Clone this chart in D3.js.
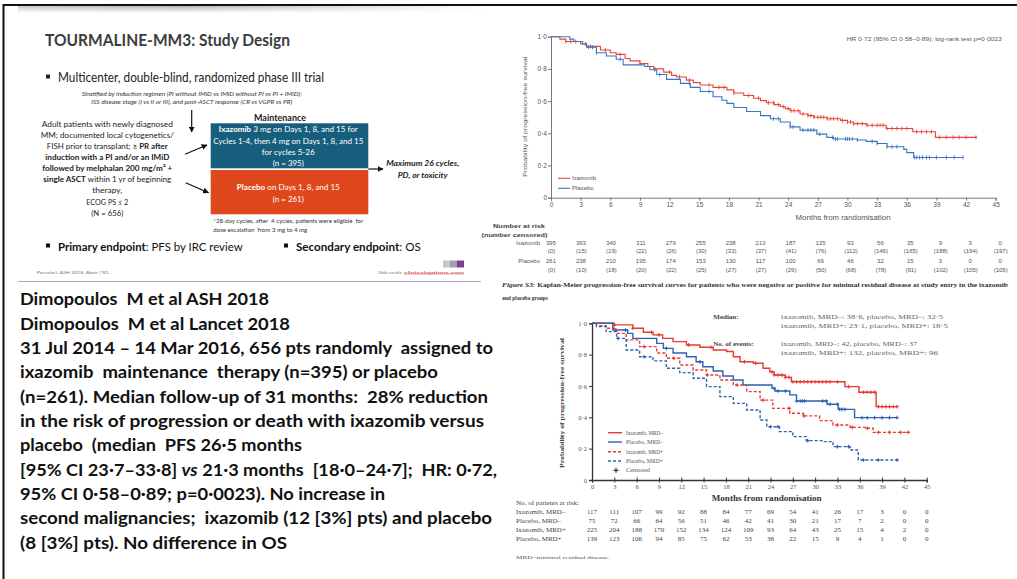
<!DOCTYPE html>
<html>
<head>
<meta charset="utf-8">
<script src="https://cdn.jsdelivr.net/npm/d3@7"></script>
<style>
  body { margin: 0; background: #fff; }
  svg { display: block; }
  text { white-space: pre; }
</style>
</head>
<body>
<svg id="c" width="1017" height="579"></svg>
<script>
// ---------- data ----------
const monthTicks = [0, 3, 6, 9, 12, 15, 18, 21, 24, 27, 30, 33, 36, 39, 42, 45];
const survTicks = [0, 0.2, 0.4, 0.6, 0.8, 1.0];

// Overall PFS, step points [month, survival]
const ixazomibPFS = [[0,1],[0.9,0.985],[1.5,0.97],[3.2,0.955],[3.6,0.94],[5,0.917],[6,0.9],[6.6,0.89],[7.5,0.865],[8,0.85],[9,0.834],[9.8,0.815],[10.4,0.8],[11.4,0.78],[12.2,0.76],[12.7,0.75],[13.7,0.73],[14.4,0.715],[15.1,0.7],[16.4,0.685],[17.8,0.67],[18.5,0.65],[19.5,0.635],[20.5,0.618],[21.2,0.603],[21.8,0.59],[22.6,0.578],[23.2,0.566],[23.7,0.553],[24.2,0.54],[25.2,0.52],[26,0.51],[26.6,0.5],[27.9,0.49],[29.3,0.48],[30,0.47],[30.6,0.46],[31.9,0.45],[33.9,0.43],[36.6,0.41],[38.9,0.375]];
const ixazomibEnd = 43.1;
const placeboPFS = [[0,1],[1.9,0.985],[2.3,0.97],[3,0.955],[3.6,0.935],[4.6,0.9],[5.6,0.88],[6.6,0.86],[7.3,0.825],[9.5,0.815],[10,0.795],[10.7,0.765],[11.7,0.735],[13.1,0.71],[14.1,0.685],[15.1,0.66],[16.4,0.627],[17.3,0.605],[17.8,0.586],[18.5,0.56],[19.8,0.535],[21.2,0.51],[22.2,0.49],[23.2,0.47],[24.2,0.44],[25.2,0.42],[26.9,0.395],[27.9,0.375],[28.6,0.365],[31,0.358],[31.9,0.35],[33,0.337],[34,0.316],[35.7,0.3],[36,0.28],[36.7,0.25]];
const placeboEnd = 41.7;
const ixazomibCensor = [1.5,2,2.5,4,5.5,7,9,10.5,12,13,14,16,17,17.5,18.5,20,21,22,22.5,23,23.5,24,24.3,24.6,25,25.5,26,26.3,26.6,27,27.3,27.6,28,28.3,28.6,29,29.5,30,30.3,30.6,31,31.5,32,32.5,33,33.3,33.6,34,34.5,35,35.5,36,37,37.5,38,38.5,39.3,40,40.7,41.3,42,43];
const placeboCensor = [3.5,3.8,4.2,4.6,7,10.5,11,14,16,22.5,23,24.2,24.5,25.5,26,26.3,26.6,27.2,28.5,28.8,29,29.8,30,30.2,30.5,31,32.5,33,34,34.5,35,36.8,37,37.3,37.6,38,38.3,39,40,40.8,41.7];

// Number at risk (number censored)
const riskIxazomib = [395,363,340,311,279,255,238,213,187,135,93,56,35,9,3,0];
const censIxazomib = [0,15,19,22,26,30,33,37,41,76,112,146,165,188,194,197];
const riskPlacebo = [261,238,210,195,174,153,130,117,100,69,46,32,15,3,0,0];
const censPlacebo = [0,10,18,20,22,25,27,27,29,50,68,78,91,102,105,105];

// PFS by MRD status at study entry
const ixaMrdNeg = [[0,1],[3,0.99],[5.5,0.968],[6.9,0.943],[8.2,0.926],[9.5,0.904],[10.9,0.883],[12.7,0.862],[14.5,0.847],[16.3,0.83],[18.1,0.82],[19,0.787],[19.9,0.755],[21.7,0.745],[23,0.713],[23.9,0.69],[24.5,0.67],[26,0.655],[26.8,0.627],[34,0.596],[35.9,0.56],[38.2,0.468]];
const ixaMrdNegEnd = 41;
const plaMrdNeg = [[0,1],[2.8,0.957],[4.8,0.936],[5.5,0.904],[8.7,0.872],[9.6,0.84],[10.9,0.81],[12.7,0.787],[14,0.755],[14.9,0.723],[16.3,0.696],[17.6,0.664],[19,0.638],[20.3,0.606],[24.2,0.585],[24.6,0.568],[26.6,0.543],[27.5,0.504],[31.6,0.483],[33.1,0.451],[35.3,0.398]];
const plaMrdNegEnd = 41;
const ixaMrdPos = [[0,1],[1,0.984],[1.9,0.968],[3.3,0.936],[4.6,0.894],[6.4,0.851],[8.7,0.81],[10,0.777],[11.8,0.734],[13.6,0.702],[15.4,0.67],[17.2,0.638],[19,0.606],[20.8,0.564],[22.6,0.51],[24.3,0.457],[26.6,0.426],[28.4,0.409],[30.6,0.379],[32.4,0.351],[34.7,0.336],[36.9,0.33],[37.8,0.304]];
const ixaMrdPosEnd = 42.7;
const plaMrdPos = [[0,1],[0.6,0.98],[1.9,0.947],[3.3,0.904],[4.6,0.83],[6.4,0.787],[8.2,0.76],[10,0.713],[11.8,0.685],[13.6,0.649],[15.4,0.596],[17.2,0.532],[19,0.489],[20.8,0.447],[22.6,0.383],[23.5,0.34],[25.2,0.309],[27,0.277],[28.8,0.251],[31.1,0.245],[32.4,0.213],[34.7,0.191],[35.8,0.128]];
const plaMrdPosEnd = 41.4;
const ixaMrdNegCensor = [3,5.5,8,9,13,16,20.5,22,24.2,24.5,25,25.5,26,26.5,27,27.5,28,28.5,29,29.5,30,30.5,31,31.5,32,33,34.5,36.5,37,37.5,38,38.5,39,39.5,40,40.5,41];
const plaMrdNegCensor = [3.2,4.5,10,14.5,24.5,25,26,27.5,28,28.3,28.6,31,31.5,32,33,33.3,33.6,34,36.3,37,38,39,40,41];
const ixaMrdPosCensor = [7,11,15.5,19.5,23,26.5,28.5,33,35,37,38.5,40,41.5,42.5];
const plaMrdPosCensor = [3.5,7,24,25,29,33,34.5,36.5,38.5,41];

const mrdRows = ["Ixazomib, MRD\u2013", "Placebo, MRD\u2013", "Ixazomib, MRD+", "Placebo, MRD+"];
const mrdRisk = [
  [117,111,107,99,92,88,84,77,69,54,41,26,17,3,0,0],
  [75,72,66,64,56,51,46,42,41,30,21,17,7,2,0,0],
  [225,204,188,170,152,134,124,109,93,64,43,25,15,4,2,0],
  [139,123,106,94,85,75,62,53,38,22,15,9,4,1,0,0]
];

// Body text
const bodyLines = [
  [["Dimopoulos  M et al ASH 2018"]],
  [["Dimopoulos  M et al Lancet 2018"]],
  [["31 Jul 2014 \u2013 14 Mar 2016, 656 pts randomly  assigned to"]],
  [["ixazomib  maintenance  therapy (n=395) or placebo"]],
  [["(n=261). Median follow-up of 31 months:  28% reduction"]],
  [["in the risk of progression or death with ixazomib versus"]],
  [["placebo  (median  PFS 26\u00b75 months"]],
  [["[95% CI 23\u00b77\u201333\u00b78] "], ["vs", {"font-style": "italic"}], [" 21\u00b73 months  [18\u00b70\u201324\u00b77];  HR: 0\u00b772,"]],
  [["95% CI 0\u00b758\u20130\u00b789; p=0\u00b70023). No increase in"]],
  [["second malignancies;  ixazomib (12 [3%] pts) and placebo"]],
  [["(8 [3%] pts). No difference in OS"]]
];
const bodyWidths = [249, 270, 473, 418, 468, 464, 282, 477, 365, 472, 267];

// ---------- helpers ----------
const SANS = "Lato, 'Open Sans', sans-serif";
const NARROW = "'Liberation Sans', Arial, sans-serif";
const SERIF = "'Liberation Serif', 'Times New Roman', serif";
const svg = d3.select("#c");
const fmt = d => d === 0 ? "0" : d3.format(".1f")(d).replace(".", "\u00b7");

// o.width stretches glyphs to a run length; o.fit scales the font size instead
function label(parent, x, y, content, o = {}) {
  const t = parent.append("text").attr("x", x).attr("y", y)
    .attr("font-family", o.family || SANS).attr("font-size", o.size || 10)
    .attr("font-weight", o.weight || "normal").attr("font-style", o.style || "normal")
    .attr("fill", o.fill || "#000").attr("text-anchor", o.anchor || "start")
    .attr("dominant-baseline", "central");
  if (o.rotate) t.attr("transform", `rotate(${o.rotate},${x},${y})`);
  const parts = Array.isArray(content) ? content : [[content]];
  parts.forEach(p => {
    const s = t.append("tspan").text(p[0]);
    if (p[1]) Object.entries(p[1]).forEach(([k, v]) => s.attr(k, v));
  });
  if (o.width) t.attr("textLength", o.width).attr("lengthAdjust", "spacingAndGlyphs");
  if (o.fit) {
    const natural = t.node().getComputedTextLength();
    if (natural > 0) t.attr("font-size", (o.size || 10) * o.fit / natural);
  }
  return t;
}
function survAt(data, t) { let s = 1; for (const [m, v] of data) if (m <= t) s = v; return s; }
function stepLine(x, y) {
  return d3.line().x(d => x(d[0])).y(d => y(d[1])).curve(d3.curveStepAfter);
}

// ---------- frame ----------
const defs = svg.append("defs");
const grad = defs.append("linearGradient").attr("id", "band");
grad.append("stop").attr("offset", "0%").attr("stop-color", "#c8c8c8");
grad.append("stop").attr("offset", "35%").attr("stop-color", "#b4b4b4");
grad.append("stop").attr("offset", "100%").attr("stop-color", "#ffffff");
const bandV = defs.append("linearGradient").attr("id", "bandMask").attr("x1", 0).attr("x2", 0).attr("y1", 0).attr("y2", 1);
bandV.append("stop").attr("offset", "0%").attr("stop-color", "#fff").attr("stop-opacity", 0);
bandV.append("stop").attr("offset", "100%").attr("stop-color", "#fff").attr("stop-opacity", 1);
svg.append("rect").attr("x", 18).attr("y", 6).attr("width", 470).attr("height", 7).attr("fill", "url(#band)");
svg.append("rect").attr("x", 18).attr("y", 6).attr("width", 470).attr("height", 7).attr("fill", "url(#bandMask)");
svg.append("line").attr("x1", 3).attr("x2", 1017).attr("y1", 5).attr("y2", 5).attr("stroke", "#111").attr("stroke-width", 2);
svg.append("line").attr("x1", 3.5).attr("x2", 3.5).attr("y1", 4).attr("y2", 579).attr("stroke", "#111").attr("stroke-width", 2);

// ---------- study design panel ----------
const sd = svg.append("g");
label(sd, 45, 38.5, "TOURMALINE-MM3: Study Design", {size: 17.5, weight: "bold", fill: "#3c3c3c", width: 245});
sd.append("rect").attr("x", 46).attr("y", 74.5).attr("width", 4).attr("height", 4).attr("fill", "#222");
label(sd, 58, 77, "Multicenter, double-blind, randomized phase III trial", {size: 12.5, fill: "#222", width: 266});
label(sd, 191.7, 94, "Stratified by induction regimen (PI without IMiD vs IMiD without PI vs PI + IMiD);", {size: 5.3, style: "italic", anchor: "middle", fill: "#333", width: 220});
label(sd, 191.7, 102.3, "ISS disease stage (I vs II or III), and post-ASCT response (CR vs VGPR vs PR)", {size: 5.3, style: "italic", anchor: "middle", fill: "#333", width: 201});

// arrows
defs.append("marker").attr("id", "ah").attr("viewBox", "0 0 10 10").attr("refX", 9).attr("refY", 5)
  .attr("markerWidth", 5).attr("markerHeight", 5).attr("orient", "auto")
  .append("path").attr("d", "M0,0L10,5L0,10z").attr("fill", "#111");
const arrows = [[191.7, 110, 191.7, 132], [185, 154.3, 207, 145], [185.7, 182.7, 208.5, 192.7], [368.3, 169, 383, 169]];
sd.selectAll("line.arr").data(arrows).join("line").attr("class", "arr")
  .attr("x1", d => d[0]).attr("y1", d => d[1]).attr("x2", d => d[2]).attr("y2", d => d[3])
  .attr("stroke", "#111").attr("stroke-width", 1.2).attr("marker-end", "url(#ah)");

const leftLines = [
  [[["Adult patients with newly diagnosed"]], 131],
  [[["MM; documented local cytogenetics/"]], 133],
  [[["FISH prior to transplant; "], ["\u2265 PR after", {"font-weight": "bold"}]], 121],
  [[["induction with a PI and/or an IMiD", {"font-weight": "bold"}]], 124],
  [[["followed by melphalan 200 mg/m\u00b2 +", {"font-weight": "bold"}]], 130],
  [[["single ASCT", {"font-weight": "bold"}], [" within 1 yr of beginning"]], 128],
  [[["therapy,"]], 30],
  [[["ECOG PS \u2264 2"]], 42],
  [[["(N = 656)"]], 32]
];
leftLines.forEach((l, i) => label(sd, 107.3, 124 + i * 11.08, l[0], {size: 8, anchor: "middle", fill: "#222", width: l[1]}));

label(sd, 280, 117.7, "Maintenance", {size: 8.5, weight: "bold", anchor: "middle", fill: "#222", width: 52});
sd.append("rect").attr("x", 210.7).attr("y", 123.3).attr("width", 157.6).attr("height", 45).attr("fill", "#175e7c");
sd.append("rect").attr("x", 210.7).attr("y", 170).attr("width", 157.6).attr("height", 44.3).attr("fill", "#df481d");
const teal = [
  [[["Ixazomib", {"font-weight": "bold"}], [" 3 mg on Days 1, 8, and 15 for"]], 139],
  [[["Cycles 1-4, then 4 mg on Days 1, 8, and 15"]], 150],
  [[["for cycles 5-26"]], 53],
  [[["(n = 395)"]], 31]
];
const tealY = [129.3, 141, 152, 162.7];
teal.forEach((l, i) => label(sd, 288.3, tealY[i], l[0], {size: 8, anchor: "middle", fill: "#fff", width: l[1]}));
label(sd, 288.3, 187, [["Placebo", {"font-weight": "bold"}], [" on Days 1, 8, and 15"]], {size: 8, anchor: "middle", fill: "#fff", width: 103});
label(sd, 288.3, 198.7, "(n = 261)", {size: 8, anchor: "middle", fill: "#fff", width: 31});
label(sd, 422.7, 163.3, "Maximum 26 cycles,", {size: 8, weight: "bold", style: "italic", anchor: "middle", fill: "#222", width: 73});
label(sd, 422.7, 175, "PD, or toxicity", {size: 8, weight: "bold", style: "italic", anchor: "middle", fill: "#222", width: 50});
label(sd, 213.3, 221, "*28-day cycles, after  4 cycles, patients were eligible  for", {size: 5, fill: "#333", width: 150});
label(sd, 213.3, 229.8, "dose escalation  from 3 mg to 4 mg", {size: 5, fill: "#333", width: 94});

// endpoints
sd.append("rect").attr("x", 46).attr("y", 243.5).attr("width", 4).attr("height", 4).attr("fill", "#111");
label(sd, 58, 245.7, [["Primary endpoint", {"font-weight": "bold"}], [": PFS by IRC review"]], {size: 12.5, fill: "#111", fit: 185});
sd.append("rect").attr("x", 284).attr("y", 243.5).attr("width", 4).attr("height", 4).attr("fill", "#111");
label(sd, 296, 245.7, [["Secondary endpoint", {"font-weight": "bold"}], [": OS"]], {size: 12.5, fill: "#111", fit: 125});

label(sd, 36.7, 271.7, "Poeschel. ASH 2018. Abstr 781.", {size: 4.5, fill: "#777", width: 73});
label(sd, 378.3, 271.7, "Slide credit:", {size: 4.5, fill: "#777", width: 24});
label(sd, 404, 271.7, "clinicaloptions.com", {size: 4.5, fill: "#d04040", width: 60});
sd.append("line").attr("x1", 404).attr("x2", 464).attr("y1", 274).attr("y2", 274).attr("stroke", "#d04040").attr("stroke-width", 0.5);
sd.append("rect").attr("x", 443).attr("y", 260.5).attr("width", 7).attr("height", 7).attr("fill", "#c8c8cc");
sd.append("rect").attr("x", 450).attr("y", 260.5).attr("width", 7).attr("height", 7).attr("fill", "#9aa0b0");
sd.append("rect").attr("x", 457).attr("y", 260.5).attr("width", 7).attr("height", 7).attr("fill", "#7d3c98");
sd.append("line").attr("x1", 18).attr("x2", 481).attr("y1", 281.5).attr("y2", 281.5).attr("stroke", "#b3aac8").attr("stroke-width", 1);

// ---------- body text ----------
const body = svg.append("g");
bodyLines.forEach((l, i) => label(body, 20, 298.3 + i * 24.35, l, {size: 17, weight: "bold", fill: "#111", width: bodyWidths[i]}));

// ---------- overall PFS chart ----------
const g1 = svg.append("g");
const x1 = d3.scaleLinear().domain([0, 45]).range([551, 995.7]);
const y1 = d3.scaleLinear().domain([0, 1]).range([197.7, 36.7]);
const ax1 = g1.append("g").attr("transform", "translate(0,197.7)")
  .call(d3.axisBottom(x1).tickValues(monthTicks).tickSize(3).tickPadding(1.5).tickFormat(d3.format("d")));
const ay1 = g1.append("g").attr("transform", "translate(551,0)")
  .call(d3.axisLeft(y1).tickValues(survTicks).tickSize(3).tickPadding(1).tickFormat(fmt));
[ax1, ay1].forEach(a => {
  a.select(".domain").attr("stroke", "#777");
  a.selectAll(".tick line").attr("stroke", "#777");
  a.selectAll("text").attr("font-family", NARROW).attr("font-size", 6.5).attr("fill", "#555");
});
label(g1, 843, 216.7, "Months from randomisation", {family: NARROW, size: 6.5, anchor: "middle", fill: "#555", width: 95});
label(g1, 525, 116.7, "Probability of progression-free survival", {family: NARROW, size: 6, anchor: "middle", fill: "#555", width: 120, rotate: -90});
label(g1, 1001.7, 39.3, "HR 0\u00b772 (95% CI 0\u00b758\u20130\u00b789); log-rank test p=0\u00b70023", {family: NARROW, size: 5.5, anchor: "end", fill: "#555", width: 155});

const km1 = [
  {data: ixazomibPFS, end: ixazomibEnd, censor: ixazomibCensor, color: "#e8453a"},
  {data: placeboPFS, end: placeboEnd, censor: placeboCensor, color: "#3b76c0"}
];
const line1 = stepLine(x1, y1);
km1.forEach(s => {
  const pts = s.data.concat([[s.end, s.data[s.data.length - 1][1]]]);
  g1.append("path").attr("d", line1(pts)).attr("fill", "none").attr("stroke", s.color).attr("stroke-width", 1.1);
  g1.selectAll(null).data(s.censor).join("line")
    .attr("x1", d => x1(d)).attr("x2", d => x1(d))
    .attr("y1", d => y1(survAt(s.data, d)) - 2).attr("y2", d => y1(survAt(s.data, d)) + 2)
    .attr("stroke", s.color).attr("stroke-width", 0.9);
});
[["Ixazomib", "#e8453a", 178.3], ["Placebo", "#3b76c0", 188.3]].forEach(d => {
  g1.append("line").attr("x1", 558).attr("x2", 570).attr("y1", d[2]).attr("y2", d[2]).attr("stroke", d[1]).attr("stroke-width", 1.1);
  label(g1, 572, d[2], d[0], {family: NARROW, size: 6, fill: "#555"});
});

// number at risk table
label(g1, 519, 226, "Number at risk", {family: NARROW, size: 6, weight: "bold", anchor: "middle", fill: "#444", width: 52});
label(g1, 514.5, 234.5, "(number censored)", {family: NARROW, size: 6, weight: "bold", anchor: "middle", fill: "#444", width: 66});
const riskRows = [
  {name: "Ixazomib", vals: riskIxazomib, y: 242.7},
  {name: null, vals: censIxazomib, y: 251.3, paren: true},
  {name: "Placebo", vals: riskPlacebo, y: 261.3},
  {name: null, vals: censPlacebo, y: 270.3, paren: true}
];
riskRows.forEach(r => {
  if (r.name) label(g1, 540, r.y, r.name, {family: NARROW, size: 6, anchor: "end", fill: "#555"});
  r.vals.forEach((v, i) => label(g1, x1(monthTicks[i]) + (r.paren ? 0.5 : 0) + i * 0.3, r.y, r.paren ? `(${v})` : String(v), {family: NARROW, size: 6, anchor: "middle", fill: "#555"}));
});
label(g1, 502, 285, [["Figure S3:", {"font-style": "italic"}], [" Kaplan-Meier progression-free survival curves for patients who were negative or positive for minimal residual disease at study entry in the ixazomib"]], {family: SERIF, size: 5.5, weight: "bold", fill: "#333", width: 506});
label(g1, 502, 297.5, "and placebo groups", {family: SERIF, size: 5.5, weight: "bold", fill: "#333", width: 46});

// ---------- PFS by MRD status chart ----------
const g2 = svg.append("g");
const x2 = d3.scaleLinear().domain([0, 45]).range([592, 926.7]);
const y2 = d3.scaleLinear().domain([0, 1]).range([480, 323.3]);
const ax2 = g2.append("g").attr("transform", "translate(0,480)")
  .call(d3.axisBottom(x2).tickValues(monthTicks).tickSize(2.5).tickPadding(1.5).tickFormat(d3.format("d")));
const ay2 = g2.append("g").attr("transform", "translate(592,0)")
  .call(d3.axisLeft(y2).tickValues(survTicks).tickSize(3).tickPadding(2).tickFormat(fmt));
[ax2, ay2].forEach(a => {
  a.select(".domain").attr("stroke", "#333").attr("stroke-width", 1.3);
  a.selectAll(".tick line").attr("stroke", "#333").attr("stroke-width", 1);
  a.selectAll("text").attr("font-family", SERIF).attr("font-size", 6.5).attr("fill", "#555");
});
ax2.selectAll(".tick line").attr("y1", -2.5);
label(g2, 766.7, 498.3, "Months from randomisation", {family: SERIF, size: 8, weight: "bold", anchor: "middle", fill: "#333", width: 110});
label(g2, 561.7, 403, "Probability of progression-free survival", {family: SERIF, size: 7, weight: "bold", anchor: "middle", fill: "#444", width: 130, rotate: -90});

label(g2, 713.3, 316.7, "Median:", {family: SERIF, size: 7, weight: "bold", fill: "#444"});
label(g2, 781, 316.7, "ixazomib, MRD\u2013: 38\u00b76, placebo, MRD\u2013: 32\u00b75", {family: SERIF, size: 7, fill: "#666", width: 162});
label(g2, 781, 325.7, "ixazomib, MRD+: 23\u00b71, placebo, MRD+: 18\u00b75", {family: SERIF, size: 7, fill: "#666", width: 167});
label(g2, 713.3, 344.3, "No. of events:", {family: SERIF, size: 7, weight: "bold", fill: "#444"});
label(g2, 781, 344.3, "ixazomib, MRD\u2013: 42, placebo, MRD\u2013: 37", {family: SERIF, size: 7, fill: "#666", width: 136});
label(g2, 781, 353.3, "ixazomib, MRD+: 132, placebo, MRD+: 96", {family: SERIF, size: 7, fill: "#666", width: 157});

const RED2 = "#e63b33", BLUE2 = "#2c61b5";
const km2 = [
  {data: ixaMrdNeg, end: ixaMrdNegEnd, censor: ixaMrdNegCensor, color: RED2, dash: null},
  {data: plaMrdNeg, end: plaMrdNegEnd, censor: plaMrdNegCensor, color: BLUE2, dash: null},
  {data: ixaMrdPos, end: ixaMrdPosEnd, censor: ixaMrdPosCensor, color: RED2, dash: "3,2"},
  {data: plaMrdPos, end: plaMrdPosEnd, censor: plaMrdPosCensor, color: BLUE2, dash: "3,2"}
];
const line2 = stepLine(x2, y2);
km2.forEach(s => {
  const pts = s.data.concat([[s.end, s.data[s.data.length - 1][1]]]);
  g2.append("path").attr("d", line2(pts)).attr("fill", "none").attr("stroke", s.color)
    .attr("stroke-width", 1.4).attr("stroke-dasharray", s.dash);
  g2.selectAll(null).data(s.censor).join("path")
    .attr("d", d => { const cx = x2(d), cy = y2(survAt(s.data, d)); return `M${cx - 1.8},${cy}H${cx + 1.8}M${cx},${cy - 1.8}V${cy + 1.8}`; })
    .attr("stroke", s.color).attr("stroke-width", 1.1);
});
const legend2 = [
  {text: "Ixazomib, MRD\u2013", color: RED2, dash: null, y: 432.7},
  {text: "Placebo, MRD\u2013", color: BLUE2, dash: null, y: 442},
  {text: "Ixazomib, MRD+", color: RED2, dash: "3,2", y: 451.7},
  {text: "Placebo, MRD+", color: BLUE2, dash: "3,2", y: 461}
];
legend2.forEach(d => {
  g2.append("line").attr("x1", 608).attr("x2", 622).attr("y1", d.y).attr("y2", d.y)
    .attr("stroke", d.color).attr("stroke-width", 1.4).attr("stroke-dasharray", d.dash);
  label(g2, 626, d.y, d.text, {family: SERIF, size: 7, fill: "#555", width: 37});
});
g2.append("path").attr("d", "M613.5,470.3H618.5M616,467.8V472.8").attr("stroke", "#333").attr("stroke-width", 1.2);
label(g2, 626, 470.3, "Censored", {family: SERIF, size: 7, fill: "#555", width: 24});

label(g2, 516, 503.3, "No. of patients at risk:", {family: SERIF, size: 7, fill: "#444", width: 63});
const rowY = [511.7, 521, 530, 539.3];
mrdRows.forEach((name, r) => {
  label(g2, 516, rowY[r], name, {family: SERIF, size: 7, fill: "#444"});
  mrdRisk[r].forEach((v, i) => label(g2, x2(monthTicks[i]), rowY[r], String(v), {family: SERIF, size: 7, anchor: "middle", fill: "#444"}));
});
label(g2, 516, 557.3, "MRD=minimal residual disease.", {family: SERIF, size: 5, fill: "#555", width: 94});
</script>
</body>
</html>
